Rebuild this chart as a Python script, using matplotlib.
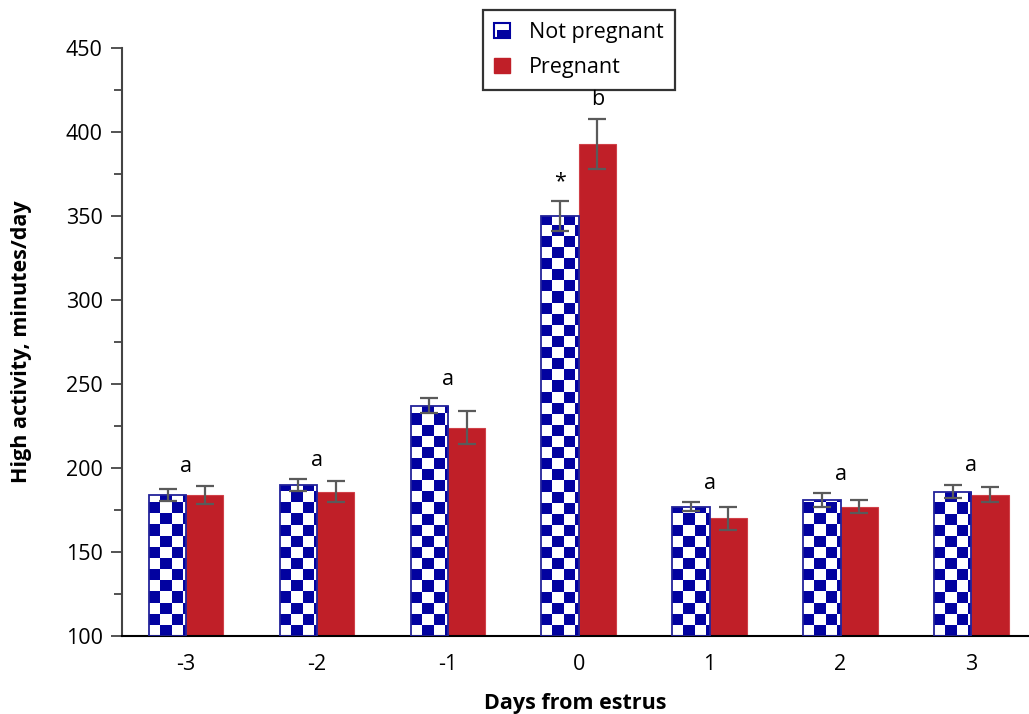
import numpy as np
import matplotlib
matplotlib.use("Agg")
import matplotlib.pyplot as plt
from matplotlib.colors import ListedColormap
from matplotlib.patches import Rectangle
from matplotlib.legend_handler import HandlerBase
from matplotlib.ticker import MultipleLocator

plt.rcParams['font.family'] = ['Open Sans', 'DejaVu Sans']

days = ['-3', '-2', '-1', '0', '1', '2', '3']
not_preg = [184, 190, 237, 350, 177, 181, 186]
not_preg_err = [3.5, 3.5, 4.5, 9, 2.5, 4, 4]
preg = [184, 186, 224, 393, 170, 177, 184]
preg_err = [5.5, 6, 10, 15, 7, 4, 4.5]
# (day index, which bar, label)
marks = [(0, 'g', 'a'), (1, 'g', 'a'), (2, 'g', 'a'), (3, 'np', '*'),
         (3, 'p', 'b'), (4, 'g', 'a'), (5, 'g', 'a'), (6, 'g', 'a')]

blue = '#0202a0'
red = '#c01f28'
w = 0.285
base = 100

fig = plt.figure(figsize=(10.29, 7.14), dpi=100)
ax = fig.add_axes([0.1186, 0.1092, 0.8814, 0.8236])
x = np.array([int(d) for d in days])

checker = ListedColormap(['white', blue])
sqx, sqy = 0.085, 6.6  # size of checker squares in data units

bars_np = ax.bar(x - w/2, np.array(not_preg) - base, w, bottom=base,
                 facecolor='none', edgecolor='#22229a', linewidth=1.3, zorder=3)
for b in bars_np:
    x0 = b.get_x()
    nc = int(np.ceil(b.get_width() / sqx)) + 1
    nr = int(np.ceil(b.get_height() / sqy)) + 1
    arr = (np.add.outer(np.arange(nr), np.arange(nc)) % 2)
    im = ax.imshow(arr, cmap=checker, origin='lower', interpolation='nearest',
                   extent=(x0, x0 + nc*sqx, base, base + nr*sqy),
                   aspect='auto', zorder=2)
    im.set_clip_path(b)

ax.bar(x + w/2, np.array(preg) - base, w, bottom=base, color=red,
       edgecolor='#d04048', linewidth=0.8, zorder=2)

ekw = dict(fmt='none', ecolor='#5a5a5a', elinewidth=1.6, capsize=6.5,
           capthick=1.6, zorder=4)
ax.errorbar(x - w/2, not_preg, yerr=not_preg_err, **ekw)
ax.errorbar(x + w/2, preg, yerr=preg_err, **ekw)

for i, which, txt in marks:
    top_np = not_preg[i] + not_preg_err[i]
    top_p = preg[i] + preg_err[i]
    if which == 'g':
        xx, yy = x[i], max(top_np, top_p)
    elif which == 'np':
        xx, yy = x[i] - w/2, top_np
    else:
        xx, yy = x[i] + w/2, top_p
    ax.annotate(txt, (xx, yy), xytext=(0, 6), textcoords='offset points',
                ha='center', va='bottom', fontsize=15.5)

ax.set_xlim(-3.49, 3.44)
ax.set_ylim(100, 450)
ax.set_xticks(x)
ax.set_xticklabels(days)
ax.yaxis.set_major_locator(MultipleLocator(50))
ax.yaxis.set_minor_locator(MultipleLocator(25))
ax.tick_params(axis='x', length=0, pad=13, labelsize=15.5)
ax.tick_params(axis='y', which='major', length=8, width=1.3, color='#444444',
               labelsize=15.5, pad=6)
ax.tick_params(axis='y', which='minor', length=6, width=1.3, color='#444444')
for s in ['top', 'right']:
    ax.spines[s].set_visible(False)
ax.spines['left'].set_color('#444444')
ax.spines['left'].set_linewidth(1.5)
ax.spines['bottom'].set_color('black')
ax.spines['bottom'].set_linewidth(1.5)

ax.set_xlabel('Days from estrus', fontsize=15.5, fontweight='bold', labelpad=13)
ax.set_ylabel('High activity, minutes/day', fontsize=15.5, fontweight='bold',
              labelpad=24)


class CheckerHandler(HandlerBase):
    def create_artists(self, legend, orig_handle, xdescent, ydescent,
                       width, height, fontsize, trans):
        s = height
        x0 = -xdescent + (width - s) / 2
        y0 = -ydescent
        outer = Rectangle((x0, y0), s, s, facecolor='white',
                          edgecolor=blue, linewidth=1.5, transform=trans)
        lower = Rectangle((x0 + s*0.15, y0), s*0.85, s*0.5, facecolor=blue,
                          edgecolor='none', transform=trans)
        return [outer, lower]


h_np = Rectangle((0, 0), 1, 1)
h_p = Rectangle((0, 0), 1, 1, facecolor=red, edgecolor=red)
leg = fig.legend([h_np, h_p], ['Not pregnant', 'Pregnant'],
                 handler_map={h_np: CheckerHandler()},
                 loc='upper center', bbox_to_anchor=(0.5627, 0.986),
                 fontsize=15.5, frameon=True, fancybox=False, edgecolor='black',
                 handlelength=0.7, handleheight=0.7, handletextpad=0.9,
                 labelspacing=0.65, borderpad=0.55, borderaxespad=0)
leg.get_frame().set_linewidth(1.6)

fig.savefig('out.png', dpi=100)
